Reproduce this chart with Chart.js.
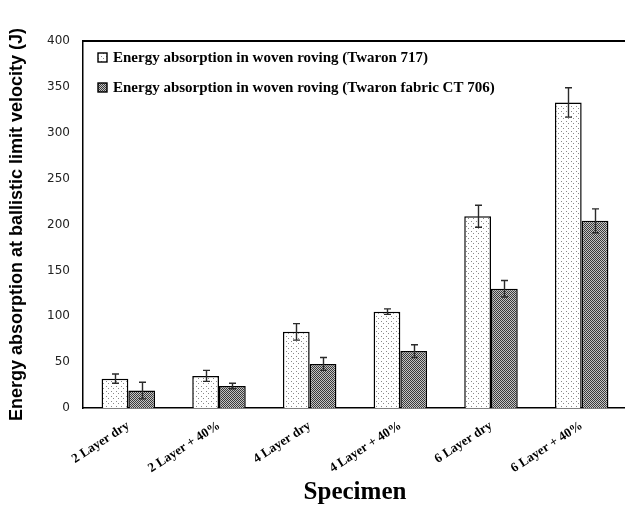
<!DOCTYPE html>
<html>
<head>
<meta charset="utf-8">
<script src="https://cdn.jsdelivr.net/npm/chart.js@4.4.1/dist/chart.umd.min.js"></script>
<style>
    html, body { margin: 0; padding: 0; background: #fff; }
    #wrap { width: 625px; height: 510px; overflow: hidden; }
    canvas { display: block; }
</style>
</head>
<body>
<div id="wrap"><canvas id="energyChart" width="630" height="510"></canvas></div>
<script>
const specimens = ["2 Layer dry", "2 Layer + 40%", "4 Layer dry", "4 Layer + 40%", "6 Layer dry", "6 Layer + 40%"];
const twaron717 = [32, 35, 83, 105, 209, 333];
const twaron717Err = [5, 6, 9, 3, 12, 16];
const ct706 = [19, 24, 48, 62, 130, 204];
const ct706Err = [9, 3, 7, 7, 9, 13];
const seriesNames = [
    "Energy absorption in woven roving (Twaron 717)",
    "Energy absorption in woven roving (Twaron fabric CT 706)",
];

const serif = "'Liberation Serif', 'Times New Roman', serif";

// fill patterns: sparse dots and a dense checker
function dotPattern() {
    const c = document.createElement("canvas");
    c.width = 5;
    c.height = 5;
    const g = c.getContext("2d");
    g.fillStyle = "#fff";
    g.fillRect(0, 0, 5, 5);
    g.fillStyle = "#8a8a8a";
    g.fillRect(1, 1, 1, 1);
    g.fillRect(3, 3, 1, 1);
    return g.createPattern(c, "repeat");
}

function checkerPattern() {
    const c = document.createElement("canvas");
    c.width = 2;
    c.height = 2;
    const g = c.getContext("2d");
    g.fillStyle = "#c4c4c4";
    g.fillRect(0, 0, 2, 2);
    g.fillStyle = "#3a3a3a";
    g.fillRect(0, 0, 1, 1);
    g.fillRect(1, 1, 1, 1);
    return g.createPattern(c, "repeat");
}

const fills = [dotPattern(), checkerPattern()];
const errors = [twaron717Err, ct706Err];

const errorBars = {
    id: "errorBars",
    afterDatasetsDraw(chart) {
        const ctx = chart.ctx;
        const y = chart.scales.y;
        ctx.save();
        ctx.strokeStyle = "#2a2a2a";
        ctx.lineWidth = 1.4;
        chart.data.datasets.forEach((ds, i) => {
            const meta = chart.getDatasetMeta(i);
            meta.data.forEach((bar, j) => {
                const v = ds.data[j];
                const e = errors[i][j];
                const x = Math.round(bar.x) + 0.5;
                const top = y.getPixelForValue(v + e);
                const bot = y.getPixelForValue(v - e);
                ctx.beginPath();
                ctx.moveTo(x, top);
                ctx.lineTo(x, bot);
                ctx.moveTo(x - 3.5, top);
                ctx.lineTo(x + 3.5, top);
                ctx.moveTo(x - 3.5, bot);
                ctx.lineTo(x + 3.5, bot);
                ctx.stroke();
            });
        });
        ctx.restore();
    },
};

// frame line on top and the two-row legend inside the plot
const frameAndLegend = {
    id: "frameAndLegend",
    afterDraw(chart) {
        const ctx = chart.ctx;
        const a = chart.chartArea;
        ctx.save();
        ctx.strokeStyle = "#000";
        ctx.lineWidth = 2;
        ctx.beginPath();
        ctx.moveTo(a.left, a.top);
        ctx.lineTo(a.right, a.top);
        ctx.stroke();

        const rows = [58, 88];
        ctx.font = "bold 15px " + serif;
        ctx.textBaseline = "middle";
        rows.forEach((ry, i) => {
            ctx.fillStyle = fills[i];
            ctx.fillRect(98, ry - 5, 9, 9);
            ctx.strokeStyle = "#000";
            ctx.lineWidth = 1.4;
            ctx.strokeRect(98, ry - 5, 9, 9);
            ctx.fillStyle = "#000";
            ctx.fillText(seriesNames[i], 113, ry);
        });
        ctx.restore();
    },
};

new Chart(document.getElementById("energyChart"), {
    type: "bar",
    data: {
        labels: specimens,
        datasets: [
            {
                label: seriesNames[0],
                data: twaron717,
                backgroundColor: fills[0],
                borderColor: "#000",
                borderWidth: 1.5,
                borderSkipped: "bottom",
            },
            {
                label: seriesNames[1],
                data: ct706,
                backgroundColor: fills[1],
                borderColor: "#000",
                borderWidth: 1.5,
                borderSkipped: "bottom",
            },
        ],
    },
    options: {
        responsive: false,
        animation: false,
        layout: { padding: { top: 41, right: 3, left: 0, bottom: 0 } },
        categoryPercentage: 0.59,
        barPercentage: 1,
        plugins: {
            legend: { display: false },
            tooltip: { enabled: false },
        },
        scales: {
            x: {
                grid: { display: false },
                border: { color: "#000", width: 1.5 },
                ticks: {
                    color: "#000",
                    minRotation: 33,
                    maxRotation: 33,
                    padding: 2,
                    font: { family: serif, size: 13, weight: "bold" },
                },
                title: {
                    display: true,
                    text: "Specimen",
                    color: "#000",
                    padding: { top: 0, bottom: 2 },
                    font: { family: serif, size: 25, weight: "bold" },
                },
                afterFit(scale) {
                    scale.height = 102;
                },
            },
            y: {
                min: 0,
                max: 400,
                grid: { display: false, drawTicks: true, tickLength: 5, color: "#000" },
                border: { color: "#000", width: 1.5 },
                ticks: {
                    stepSize: 50,
                    color: "#222",
                    padding: 8,
                    font: { family: "'DejaVu Sans', Verdana, sans-serif", size: 12 },
                },
                title: {
                    display: true,
                    text: "Energy absorption at ballistic limit velocity (J)",
                    color: "#000",
                    padding: { top: 6, bottom: 0 },
                    font: { family: "'Liberation Sans', Arial, sans-serif", size: 18, weight: "bold" },
                },
                afterFit(scale) {
                    scale.width = 83;
                },
            },
        },
    },
    plugins: [errorBars, frameAndLegend],
});
</script>
</body>
</html>
